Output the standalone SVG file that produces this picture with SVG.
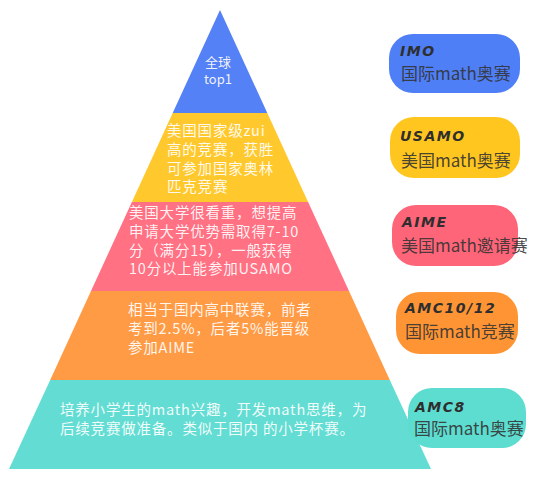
<svg xmlns="http://www.w3.org/2000/svg" width="538" height="478" viewBox="0 0 538 478">
<style>
.pt{font-family:"Noto Sans CJK SC","Noto Sans",sans-serif;font-size:14.5px;letter-spacing:0.8px;fill:#ffffff;fill-opacity:0.92}
.tt{font-family:"Noto Sans CJK SC","Noto Sans",sans-serif;font-size:13px;fill:#ffffff;fill-opacity:0.92}
.h{font-family:"DejaVu Sans","Noto Sans",sans-serif;font-size:14px;font-weight:bold;font-style:italic;fill:#2e2e2e;letter-spacing:1.5px}
.s{font-family:"Noto Sans CJK SC","Noto Sans",sans-serif;font-size:17px;fill:#333333;fill-opacity:0.9}
</style>
<rect width="538" height="478" fill="#ffffff"/>
<g id="level1">
<polygon points="220,10 267.3,113 172.7,113" fill="#5581F6"/>
<text class="tt" x="218" y="67" text-anchor="middle">全球</text>
<text class="tt" x="218" y="84" text-anchor="middle">top1</text>
</g>
<g id="level2">
<polygon points="172.7,113 267.3,113 308.1,202 131.9,202" fill="#FFC92E"/>
<text class="pt" x="167" y="136">美国国家级zui</text>
<text class="pt" x="167" y="155">高的竞赛，获胜</text>
<text class="pt" x="167" y="173.5">可参加国家奥林</text>
<text class="pt" x="167" y="192">匹克竞赛</text>
</g>
<g id="level3">
<polygon points="131.9,202 308.1,202 349,291 91,291" fill="#FF7183"/>
<text class="pt" x="129" y="218">美国大学很看重，想提高</text>
<text class="pt" x="129" y="237">申请大学优势需取得7-10</text>
<text class="pt" x="129" y="255.5">分（满分15），一般获得</text>
<text class="pt" x="129" y="274">10分以上能参加USAMO</text>
</g>
<g id="level4">
<polygon points="91,291 349,291 389.8,380 50.2,380" fill="#FF9B45"/>
<text class="pt" x="128" y="315">相当于国内高中联赛，前者</text>
<text class="pt" x="128" y="334">考到2.5%，后者5%能晋级</text>
<text class="pt" x="128" y="352.5">参加AIME</text>
</g>
<g id="level5">
<polygon points="50.2,380 389.8,380 431,469 9,469" fill="#63DDD3"/>
<text class="pt" x="60" y="415">培养小学生的math兴趣，开发math思维，为</text>
<text class="pt" x="60" y="434">后续竞赛做准备。类似于国内 的小学杯赛。</text>
</g>
<g id="connectors"></g>
<g id="imo">
<rect x="389" y="34" width="131" height="59" rx="24" fill="#4F7FF6"/>
<text class="h" x="400" y="56">IMO</text>
<text class="s" x="401" y="80">国际math奥赛</text>
</g>
<g id="usamo">
<rect x="390" y="117" width="130" height="61" rx="24" fill="#FFC61F"/>
<text class="h" x="400" y="141">USAMO</text>
<text class="s" x="401" y="167">美国math奥赛</text>
</g>
<g id="aime">
<rect x="392" y="205" width="126" height="61" rx="24" fill="#FF6579"/>
<text class="h" x="402" y="227">AIME</text>
<text class="s" x="401" y="252">美国math邀请赛</text>
</g>
<g id="amc1012">
<rect x="396" y="292" width="122" height="62" rx="24" fill="#FF9434"/>
<text class="h" x="405" y="313">AMC10/12</text>
<text class="s" x="405" y="338">国际math竞赛</text>
</g>
<g id="amc8">
<rect x="408" y="388" width="118" height="60" rx="24" fill="#5DDCD0"/>
<text class="h" x="415" y="412">AMC8</text>
<text class="s" x="414" y="435">国际math奥赛</text>
</g>
</svg>
